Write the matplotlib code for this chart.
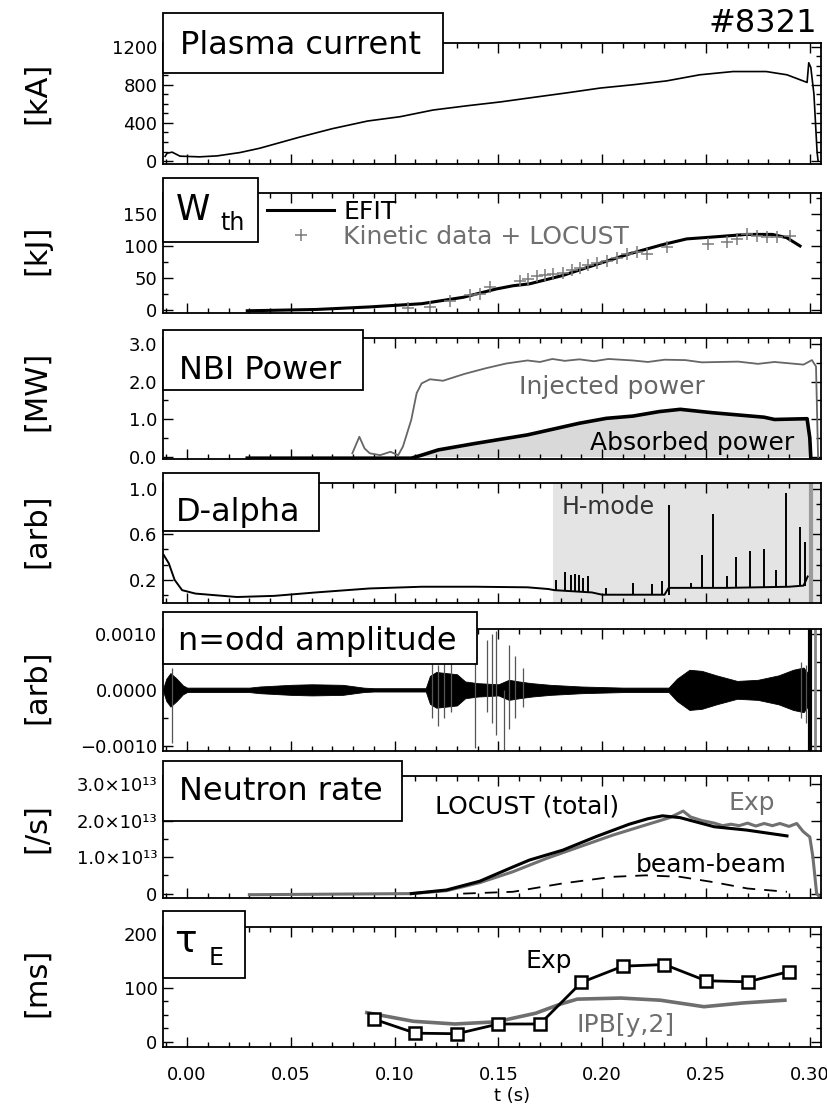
import matplotlib
matplotlib.use('Agg')
import matplotlib.pyplot as plt
from matplotlib.patches import Rectangle
from matplotlib.ticker import MultipleLocator, FixedLocator, FuncFormatter

# ---- data (shot #8321) ----
# plasma current [kA]
ip_t = [-0.0106, -0.0096, -0.0072, -0.0034, 0.006, 0.0145, 0.0255, 0.035, 0.054, 0.070,
        0.087, 0.1026, 0.1185, 0.135, 0.151, 0.167, 0.183, 0.199, 0.215, 0.231, 0.247,
        0.263, 0.279, 0.289, 0.2987, 0.2995, 0.3005, 0.302, 0.3035, 0.304]
ip_v = [50, 83, 94, 52, 45, 55, 90, 135, 250, 340, 420, 465, 535, 580, 620, 668, 715,
        765, 800, 840, 904, 938, 938, 904, 824, 1030, 980, 700, 100, 0]

# stored energy [kJ]
efit_t = [0.029, 0.062, 0.088, 0.113, 0.133, 0.149, 0.157, 0.165, 0.181, 0.197, 0.213,
          0.229, 0.2407, 0.2535, 0.2696, 0.282, 0.2888, 0.2953]
efit_v = [-1, 1, 5, 10, 20, 33, 38, 41, 54, 71, 87.6, 102, 111, 114, 118, 118, 113, 100]
kin_t = [0.1066, 0.117, 0.1267, 0.1363, 0.1411, 0.146, 0.1604, 0.1644, 0.1684, 0.1724,
         0.1764, 0.1813, 0.1853, 0.1893, 0.1933, 0.1973, 0.2022, 0.207, 0.2118, 0.2166,
         0.2214, 0.231, 0.2511, 0.26, 0.2648, 0.2696, 0.2744, 0.2792, 0.284, 0.2905]
kin_v = [4, 5, 14, 23, 25, 36, 46, 49, 53, 54, 57, 58, 62, 66, 70, 73, 77, 82, 87, 90,
         88, 99, 103, 106, 111, 119, 116, 114, 114, 116]

# NBI power [MW]
inj_t = [0.0796, 0.083, 0.0855, 0.088, 0.093, 0.098, 0.1017, 0.104, 0.108, 0.1106,
         0.113, 0.117, 0.1233, 0.1335, 0.1437, 0.1538, 0.164, 0.170, 0.176, 0.182, 0.189,
         0.196, 0.203, 0.2148, 0.222, 0.230, 0.240, 0.248, 0.2655, 0.275, 0.283, 0.291,
         0.297, 0.301, 0.303, 0.304]
inj_v = [0.09, 0.53, 0.22, 0.09, 0.04, 0.13, 0.04, 0.27, 0.98, 1.69, 1.95, 2.06, 2.02,
         2.2, 2.35, 2.48, 2.56, 2.52, 2.6, 2.55, 2.59, 2.54, 2.6, 2.56, 2.52, 2.58, 2.57,
         2.51, 2.53, 2.47, 2.52, 2.48, 2.45, 2.57, 2.4, -0.05]
abs_t = [0.029, 0.108, 0.113, 0.121, 0.1386, 0.164, 0.189, 0.202, 0.2148, 0.2275,
         0.2376, 0.253, 0.2655, 0.278, 0.283, 0.2987, 0.300, 0.3005]
abs_v = [-0.04, -0.04, 0.04, 0.18, 0.35, 0.58, 0.89, 1.02, 1.08, 1.2, 1.26, 1.17, 1.11,
         1.05, 0.99, 1.01, 0.5, -0.05]

# D-alpha [arb]
hmode_start = 0.1765
da_t = [-0.0113, -0.0088, -0.006, -0.0024, 0.004, 0.024, 0.042, 0.062, 0.088, 0.113,
        0.139, 0.164, 0.174, 0.177, 0.195, 0.200, 0.230, 0.232, 0.260, 0.290, 0.297, 0.299]
da_v = [0.42, 0.345, 0.20, 0.11, 0.08, 0.05, 0.06, 0.09, 0.125, 0.14, 0.14, 0.135,
        0.12, 0.11, 0.09, 0.07, 0.07, 0.13, 0.13, 0.14, 0.15, 0.23]
elm_t = [0.1775, 0.182, 0.185, 0.187, 0.189, 0.1905, 0.193, 0.202, 0.215, 0.224, 0.2287,
         0.2323, 0.243, 0.248, 0.2535, 0.26, 0.2645, 0.2712, 0.278, 0.2837, 0.2885,
         0.2953, 0.2977]
elm_base = [0.11, 0.10, 0.10, 0.10, 0.10, 0.09, 0.09, 0.07, 0.07, 0.07, 0.07, 0.07, 0.13,
            0.13, 0.13, 0.13, 0.13, 0.13, 0.14, 0.14, 0.14, 0.15, 0.15]
elm_peak = [0.20, 0.27, 0.24, 0.25, 0.24, 0.22, 0.23, 0.13, 0.17, 0.16, 0.19, 0.855,
            0.17, 0.42, 0.78, 0.23, 0.40, 0.45, 0.47, 0.29, 0.96, 0.665, 0.53]

# n=odd amplitude envelope [1e-4 arb]
mode_t = [-0.0115, -0.010, -0.008, -0.005, -0.002, 0.000, 0.030, 0.035, 0.050, 0.060,
          0.075, 0.085, 0.090, 0.115, 0.117, 0.120, 0.125, 0.130, 0.134, 0.140, 0.150,
          0.155, 0.160, 0.166, 0.175, 0.190, 0.210, 0.232, 0.236, 0.242, 0.248, 0.255,
          0.265, 0.275, 0.285, 0.292, 0.297, 0.299, 0.300]
mode_amp = [0.3, 2.0, 3.0, 2.0, 0.8, 0.4, 0.4, 0.6, 0.9, 1.0, 0.9, 0.4, 0.3, 0.3, 2.5,
            3.2, 3.0, 2.8, 1.5, 1.2, 1.0, 1.8, 1.5, 1.2, 0.9, 0.6, 0.4, 0.4, 2.0, 3.6,
            3.4, 2.6, 1.6, 1.8, 2.6, 3.6, 4.0, 3.0, 0.3]
burst_t = [-0.0075, 0.118, 0.121, 0.124, 0.127, 0.1386, 0.1445, 0.147, 0.149, 0.1525,
           0.155, 0.158, 0.162, 0.296, 0.298]
burst_lo = [-9.5, -5, -6.5, -5, -4, -10.5, -4, -6, -8, -11, -7, -5, -3, -5, -6]
burst_hi = [4, 6, 4.5, 5, 6, 6, 9, 10, 10.5, 0, 8, 6, 4, 5, 4.5]

# neutron rate [1e13 /s]
loc_t = [0.108, 0.125, 0.141, 0.157, 0.165, 0.181, 0.197, 0.213, 0.222, 0.229, 0.2375,
         0.254, 0.2695, 0.289]
loc_v = [0.0, 0.1, 0.34, 0.73, 0.92, 1.19, 1.56, 1.90, 2.05, 2.13, 2.08, 1.83, 1.74, 1.58]
nexp_t = [0.030, 0.108, 0.125, 0.141, 0.157, 0.173, 0.189, 0.205, 0.221, 0.2325, 0.239,
          0.2425, 0.248, 0.254, 0.258, 0.262, 0.266, 0.270, 0.274, 0.278, 0.282, 0.2856,
          0.290, 0.2937, 0.2968, 0.300, 0.3015, 0.3033, 0.305]
nexp_v = [-0.03, 0.0, 0.08, 0.30, 0.60, 0.96, 1.28, 1.60, 1.88, 2.08, 2.26, 2.10, 2.00,
          1.93, 1.86, 1.90, 1.86, 1.93, 1.85, 1.92, 1.86, 1.92, 1.84, 1.92, 1.70, 1.55,
          1.0, 0.0, -0.1]
bb_t = [0.133, 0.157, 0.181, 0.205, 0.221, 0.2375, 0.254, 0.27, 0.289]
bb_v = [0.0, 0.05, 0.28, 0.46, 0.50, 0.46, 0.31, 0.14, 0.05]

# confinement time [ms]
tau_t = [0.09, 0.11, 0.13, 0.15, 0.17, 0.19, 0.21, 0.23, 0.25, 0.27, 0.29]
tau_exp = [42, 16, 15, 33, 33, 110, 140, 143, 113, 111, 130]
ipb_t = [0.0866, 0.109, 0.129, 0.149, 0.168, 0.18, 0.188, 0.209, 0.228, 0.249, 0.268, 0.288]
ipb_v = [54, 38, 33, 37, 53, 70, 79, 81, 77, 65, 72, 77]

# ---- layout (pixel boxes of the reference) ----
W, H = 827, 1106
fig = plt.figure(figsize=(W / 100, H / 100), dpi=100)

panels = [(42.7, 164), (192.7, 312.7), (338.3, 459.3), (483, 602.7),
          (629, 750.7), (776, 898), (926.7, 1046.7)]
axes = []
for top, bot in panels:
    ax = fig.add_axes([163 / W, 1 - bot / H, (821 - 163) / W, (bot - top) / H])
    ax.set_xlim(-0.0116, 0.3054)
    ax.xaxis.set_major_locator(MultipleLocator(0.05))
    ax.xaxis.set_minor_locator(MultipleLocator(0.01))
    ax.tick_params(which='both', direction='in', top=True, right=True, width=1,
                   labelsize=13, pad=4)
    ax.tick_params(which='major', length=7)
    ax.tick_params(which='minor', length=3.5)
    ax.tick_params(axis='x', labelbottom=False)
    for s in ax.spines.values():
        s.set_linewidth(1.3)
    axes.append(ax)

ax1, ax2, ax3, ax4, ax5, ax6, ax7 = axes

# Plasma current
ax1.plot(ip_t, ip_v, color='black', lw=1.2)
ax1.set_ylim(-30, 1240)
ax1.yaxis.set_major_locator(MultipleLocator(400))
ax1.yaxis.set_minor_locator(MultipleLocator(100))

# W_th
efit_line, = ax2.plot(efit_t, efit_v, color='black', lw=2.2)
kin_pts, = ax2.plot(kin_t, kin_v, ls='none', marker='+', ms=9, mew=1.1, color='#7a7a7a')
ax2.set_ylim(-4, 183)
ax2.yaxis.set_major_locator(MultipleLocator(50))
ax2.yaxis.set_minor_locator(MultipleLocator(25))
leg = ax2.legend([efit_line, kin_pts], ['EFIT', 'Kinetic data + LOCUST'],
                 loc='upper left', bbox_to_anchor=(0.158, 0.94), frameon=False,
                 fontsize=18, handlelength=2.7, handletextpad=0.35, labelspacing=0.05,
                 borderpad=0, borderaxespad=0, numpoints=1,
                 labelcolor=['black', '#707070'])

# NBI power
ax3.fill_between(abs_t, abs_v, 0, color='#d9d9d9', lw=0)
ax3.plot(inj_t, inj_v, color='#666666', lw=1.3)
ax3.plot(abs_t, abs_v, color='black', lw=2.6)
ax3.set_ylim(-0.07, 3.15)
ax3.yaxis.set_major_locator(MultipleLocator(1.0))
ax3.yaxis.set_minor_locator(MultipleLocator(0.5))
ax3.yaxis.set_major_formatter(FuncFormatter(lambda v, p: f'{v:.1f}'))
ax3.text(0.160, 1.668, 'Injected power', color='#666666', fontsize=18, va='baseline')
ax3.text(0.194, 0.18, 'Absorbed power', color='black', fontsize=18, va='baseline')

# D-alpha
ax4.axvspan(hmode_start, 0.3054, color='#e4e4e4', lw=0, zorder=0)
ax4.plot(da_t, da_v, color='black', lw=1.4)
ax4.vlines(elm_t, elm_base, elm_peak, color='black', lw=1.4)
ax4.axvline(0.3005, color='#9a9a9a', lw=3)
ax4.set_ylim(0.0, 1.05)
ax4.yaxis.set_major_locator(FixedLocator([0.2, 0.6, 1.0]))
ax4.yaxis.set_minor_locator(FixedLocator([0.0667, 0.3333, 0.4667, 0.7333, 0.8667]))
ax4.yaxis.set_major_formatter(FuncFormatter(lambda v, p: f'{v:.1f}'))
ax4.text(0.1805, 0.782, 'H-mode', color='#333333', fontsize=17, va='baseline')

# n=odd amplitude
s = 1e-4
ax5.axhline(0, color='black', lw=0.8)
ax5.fill_between(mode_t, [-a * s for a in mode_amp], [a * s for a in mode_amp],
                 color='black', lw=0.6)
ax5.vlines(burst_t, [v * s for v in burst_lo], [v * s for v in burst_hi],
           color='#555555', lw=0.9)
ax5.axvline(0.3, color='black', lw=3)
ax5.axvline(0.3025, color='#888888', lw=2)
ax5.set_ylim(-0.00109, 0.00109)
ax5.yaxis.set_major_locator(FixedLocator([-0.001, 0.0, 0.001]))
ax5.yaxis.set_minor_locator(MultipleLocator(0.0005))
ax5.yaxis.set_major_formatter(FuncFormatter(lambda v, p: f'{v:.4f}'.replace('-', '\u2212')))

# Neutron rate
ax6.plot(nexp_t, [v * 1e13 for v in nexp_v], color='#707070', lw=2.2)
ax6.plot(loc_t, [v * 1e13 for v in loc_v], color='black', lw=2.2)
ax6.plot(bb_t, [v * 1e13 for v in bb_v], color='black', lw=1.3, dashes=(7, 5))
ax6.set_ylim(-0.12e13, 3.22e13)
ax6.yaxis.set_major_locator(MultipleLocator(1e13))
ax6.yaxis.set_minor_locator(MultipleLocator(0.5e13))
ax6.yaxis.set_major_formatter(FuncFormatter(
    lambda v, p: '0' if abs(v) < 1 else f'{v / 1e13:.1f}\u00d710\u00b9\u00b3'))
ax6.text(0.1195, 2.2e13, 'LOCUST (total)', color='black', fontsize=18, va='baseline')
ax6.text(0.261, 2.29e13, 'Exp', color='#707070', fontsize=18, va='baseline')
ax6.text(0.2163, 0.58e13, 'beam-beam', color='black', fontsize=18, va='baseline')

# tau_E
ax7.plot(ipb_t, ipb_v, color='#6e6e6e', lw=2.6)
ax7.plot(tau_t, tau_exp, color='black', lw=2, marker='s', ms=9, mew=1.8, mfc='white',
         mec='black')
ax7.set_ylim(-9, 213)
ax7.yaxis.set_major_locator(MultipleLocator(100))
ax7.yaxis.set_minor_locator(MultipleLocator(25))
ax7.tick_params(axis='x', labelbottom=True, pad=14)
ax7.xaxis.set_major_formatter(FuncFormatter(lambda v, p: f'{v:.2f}'))
ax7.text(0.1628, 136, 'Exp', color='black', fontsize=18, va='baseline')
ax7.text(0.1874, 18.5, 'IPB[y,2]', color='#6e6e6e', fontsize=18, va='baseline')


def fx(x):
    return x / W


def fy(y):
    return 1 - y / H


def label_box(x0, y0, x1, y1):
    r = Rectangle((fx(x0), fy(y1)), (x1 - x0) / W, (y1 - y0) / H,
                  transform=fig.transFigure, fc='white', ec='black', lw=1.3, zorder=5)
    fig.add_artist(r)


label_box(163, 13, 443, 73)
fig.text(fx(180), fy(54), 'Plasma current', fontsize=23, va='baseline', zorder=6)
label_box(163, 178, 258, 242)
fig.text(fx(176), fy(220), 'W', fontsize=25, va='baseline', zorder=6)
fig.text(fx(220), fy(230), 'th', fontsize=17, va='baseline', zorder=6)
label_box(163, 330, 363, 390)
fig.text(fx(179), fy(379), 'NBI Power', fontsize=23, va='baseline', zorder=6)
label_box(163, 473, 319, 531)
fig.text(fx(176), fy(521), 'D-alpha', fontsize=23, va='baseline', zorder=6)
label_box(163, 612, 477, 664)
fig.text(fx(178), fy(650), 'n=odd amplitude', fontsize=23, va='baseline', zorder=6)
label_box(163, 761, 402, 821)
fig.text(fx(179), fy(800), 'Neutron rate', fontsize=23, va='baseline', zorder=6)
label_box(163, 911, 245, 978)
fig.text(fx(174), fy(952), '\u03c4', fontsize=27, va='baseline', zorder=6)
fig.text(fx(209), fy(965), 'E', fontsize=17, va='baseline', zorder=6)

fig.text(fx(817), fy(32), '#8321', fontsize=23, ha='right', va='baseline')

ylabels = ['[kA]', '[kJ]', '[MW]', '[arb]', '[arb]', '[/s]', '[ms]']
ylab_y = [93, 250, 391, 531, 687, 828, 982]
for lab, yy in zip(ylabels, ylab_y):
    fig.text(fx(37), fy(yy), lab, fontsize=22, rotation=90, ha='center', va='center')

fig.text(fx(512), fy(1096), 't (s)', fontsize=13, ha='center', va='center')

fig.savefig('out.png', dpi=100)
